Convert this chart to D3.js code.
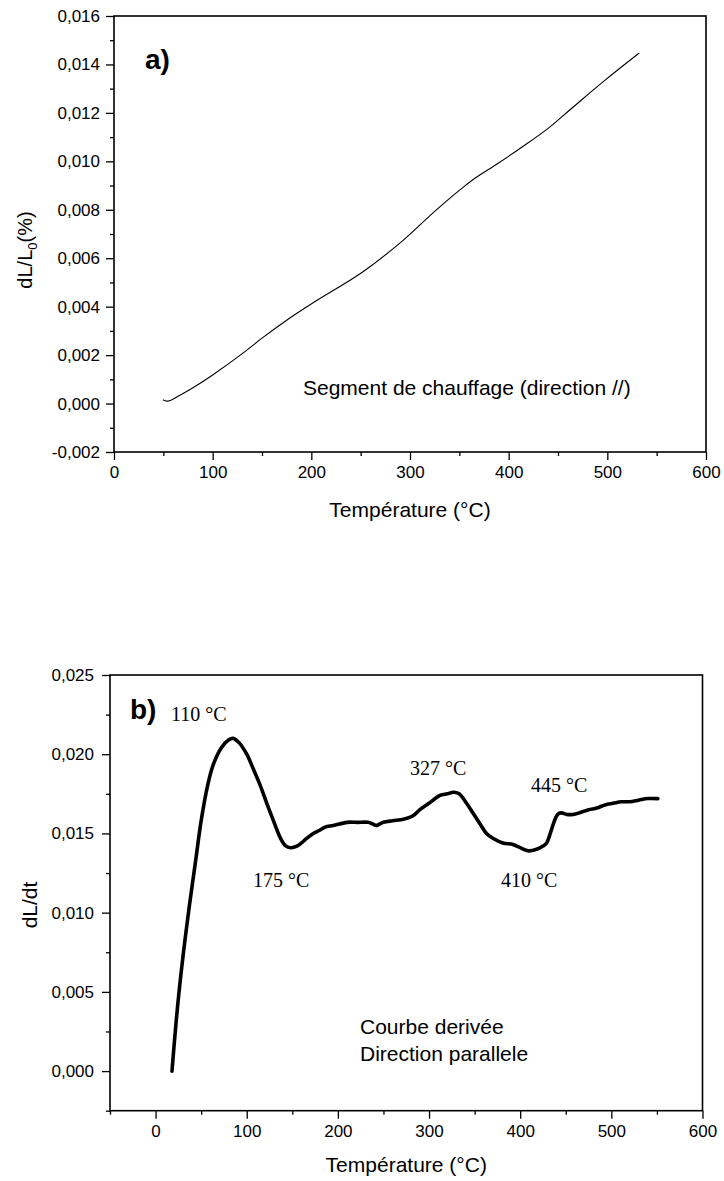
<!DOCTYPE html>
<html>
<head>
<meta charset="utf-8">
<script src="https://cdn.jsdelivr.net/npm/d3@7"></script>
<style>
  html, body { margin: 0; padding: 0; background: #fff; }
  svg { display: block; }
  .tick text { font-family: "Liberation Sans", Arial, sans-serif; }
</style>
</head>
<body>
<svg id="chart" width="724" height="1181"></svg>
<script>
// ---------- Data: panel a ----------
const tempA = [50, 55, 65, 80, 100, 130, 150, 175, 203, 252, 293, 320, 339, 350, 363, 389, 414, 440, 464, 498, 532];
const dlA   = [0.00015, 0.0001, 0.0003, 0.00065, 0.00118, 0.00206, 0.0027, 0.00344, 0.00419, 0.00543, 0.00674, 0.00775, 0.00843, 0.0088, 0.00922, 0.00991, 0.0106, 0.01136, 0.01219, 0.01336, 0.01446];
const xTicksA = [0, 100, 200, 300, 400, 500, 600];
const yTicksA = [-0.002, 0, 0.002, 0.004, 0.006, 0.008, 0.010, 0.012, 0.014, 0.016];

// ---------- Data: panel b ----------
const tempB = [18, 24, 30, 37, 44, 50, 57, 63, 72, 80, 85, 92, 100, 107, 115, 122, 130, 137, 143, 149, 155, 160, 166, 173, 180, 186, 195, 210, 222, 233, 238, 242, 246, 250, 260, 272, 282, 290, 300, 312, 320, 327, 333, 340, 348, 356, 363, 370, 381, 392, 400, 409, 418, 425, 429, 433, 437, 441, 445, 451, 458, 465, 475, 484, 493, 502, 511, 520, 530, 540, 551];
const dlB   = [0.0000, 0.0040, 0.0072, 0.0104, 0.0133, 0.0158, 0.0180, 0.0193, 0.0204, 0.0209, 0.0210, 0.0207, 0.0200, 0.0191, 0.0180, 0.0169, 0.0157, 0.0147, 0.0142, 0.0141, 0.0142, 0.0144, 0.0147, 0.0150, 0.0152, 0.0154, 0.0155, 0.0157, 0.0157, 0.0157, 0.0156, 0.0155, 0.0156, 0.0157, 0.0158, 0.0159, 0.0161, 0.0165, 0.0169, 0.0174, 0.0175, 0.0176, 0.0175, 0.0170, 0.0163, 0.0156, 0.0150, 0.0147, 0.0144, 0.0143, 0.0141, 0.0139, 0.0140, 0.0142, 0.0144, 0.0150, 0.0157, 0.0162, 0.0163, 0.0162, 0.0162, 0.0163, 0.0165, 0.0166, 0.0168, 0.0169, 0.0170, 0.0170, 0.0171, 0.0172, 0.0172];
const xTicksB = [0, 100, 200, 300, 400, 500, 600];
const yTicksB = [0, 0.005, 0.010, 0.015, 0.020, 0.025];

const peakLabels = ["110 °C", "175 °C", "327 °C", "410 °C", "445 °C"];
const peakLabelPos = [[171, 721], [253, 887], [410, 775], [501, 887], [531, 792]];

// ---------- helpers ----------
const svg = d3.select("#chart");
const fmt = d => d3.format(".3f")(d).replace(".", ",").replace("−", "-");
const sans = '"Liberation Sans", Arial, sans-serif';
const serif = '"Liberation Serif", "Times New Roman", serif';

function drawPanel(opt) {
  const x = d3.scaleLinear().domain(opt.xDomain).range([opt.left, opt.right]);
  const y = d3.scaleLinear().domain(opt.yDomain).range([opt.bottom, opt.top]);
  const g = svg.append("g");

  // minor ticks
  const xMinor = d3.range(opt.xDomain[0], opt.xDomain[1] + 1e-9, 50).filter(v => v % 100 !== 0);
  g.append("g").attr("transform", `translate(0,${opt.bottom})`)
    .call(d3.axisBottom(x).tickValues(xMinor).tickSize(4).tickFormat(""))
    .call(s => s.select(".domain").remove())
    .selectAll("line").attr("stroke-width", 1.3);
  const yMinor = d3.range(0, Math.round((opt.yDomain[1] - opt.yDomain[0]) / opt.yMinorStep) + 1)
    .map(i => opt.yDomain[0] + i * opt.yMinorStep)
    .filter(v => !opt.yTicks.some(t => Math.abs(t - v) < 1e-9));
  g.append("g").attr("transform", `translate(${opt.left},0)`)
    .call(d3.axisLeft(y).tickValues(yMinor).tickSize(4).tickFormat(""))
    .call(s => s.select(".domain").remove())
    .selectAll("line").attr("stroke-width", 1.3);

  // major axes
  const xa = g.append("g").attr("transform", `translate(0,${opt.bottom})`)
    .call(d3.axisBottom(x).tickValues(opt.xTicks).tickSize(8).tickPadding(6).tickFormat(d3.format("d")));
  xa.select(".domain").remove();
  xa.selectAll("line").attr("stroke-width", 1.3);
  xa.selectAll("text").attr("font-size", 17).attr("font-family", sans).attr("fill", "#000");

  const ya = g.append("g").attr("transform", `translate(${opt.left},0)`)
    .call(d3.axisLeft(y).tickValues(opt.yTicks).tickSize(8).tickPadding(opt.yPad).tickFormat(fmt));
  ya.select(".domain").remove();
  ya.selectAll("line").attr("stroke-width", 1.3);
  ya.selectAll("text").attr("font-size", 17).attr("font-family", sans).attr("fill", "#000");

  // frame
  g.append("rect")
    .attr("x", opt.left).attr("y", opt.top)
    .attr("width", opt.right - opt.left).attr("height", opt.bottom - opt.top)
    .attr("fill", "none").attr("stroke", "#000").attr("stroke-width", 1.6);

  // curve
  const pts = opt.xs.map((t, i) => [t, opt.ys[i]]);
  g.append("path").datum(pts)
    .attr("fill", "none").attr("stroke", "#000")
    .attr("stroke-width", opt.lineWidth)
    .attr("stroke-linejoin", "round").attr("stroke-linecap", "round")
    .attr("d", d3.line().x(d => x(d[0])).y(d => y(d[1])).curve(d3.curveCatmullRom.alpha(0.5)));

  // x title
  g.append("text")
    .attr("x", (opt.left + opt.right) / 2).attr("y", opt.xTitleY)
    .attr("text-anchor", "middle").attr("font-family", sans).attr("font-size", 21)
    .text("Température (°C)");

  // panel letter
  g.append("text").attr("x", opt.letterPos[0]).attr("y", opt.letterPos[1])
    .attr("font-family", sans).attr("font-weight", "bold").attr("font-size", 28)
    .text(opt.letter);
  return {x, y, g};
}

// ---------- panel a ----------
const pa = drawPanel({
  left: 114, right: 706, top: 16, bottom: 452,
  xDomain: [0, 600], yDomain: [-0.002, 0.016],
  xTicks: xTicksA, yTicks: yTicksA, yMinorStep: 0.001, yPad: 6,
  xs: tempA, ys: dlA, lineWidth: 1.1,
  xTitleY: 517, letter: "a)", letterPos: [145, 69]
});
const ylabA = svg.append("text")
  .attr("transform", "translate(32,250) rotate(-90)")
  .attr("text-anchor", "middle").attr("font-family", sans).attr("font-size", 20);
ylabA.append("tspan").text("dL/L");
ylabA.append("tspan").attr("font-size", 13).attr("dy", 5).text("0");
ylabA.append("tspan").attr("dy", -5).text("(%)");
svg.append("text").attr("x", 303).attr("y", 395)
  .attr("font-family", sans).attr("font-size", 21)
  .text("Segment de chauffage (direction //)");

// ---------- panel b ----------
const pb = drawPanel({
  left: 110, right: 702.5, top: 675, bottom: 1110.7,
  xDomain: [-50, 600], yDomain: [-0.0025, 0.025],
  xTicks: xTicksB, yTicks: yTicksB, yMinorStep: 0.0025, yPad: 8,
  xs: tempB, ys: dlB, lineWidth: 3.6,
  xTitleY: 1172, letter: "b)", letterPos: [130, 719]
});
svg.append("text")
  .attr("transform", "translate(37,905) rotate(-90)")
  .attr("text-anchor", "middle").attr("font-family", sans).attr("font-size", 21)
  .text("dL/dt");
svg.selectAll("text.peak").data(peakLabels).enter().append("text")
  .attr("class", "peak")
  .attr("x", (d, i) => peakLabelPos[i][0]).attr("y", (d, i) => peakLabelPos[i][1])
  .attr("font-family", serif).attr("font-size", 20)
  .text(d => d);
const note = svg.append("text").attr("font-family", sans).attr("font-size", 21);
note.append("tspan").attr("x", 360).attr("y", 1034).text("Courbe derivée");
note.append("tspan").attr("x", 360).attr("y", 1060.5).text("Direction parallele");
</script>
</body>
</html>
